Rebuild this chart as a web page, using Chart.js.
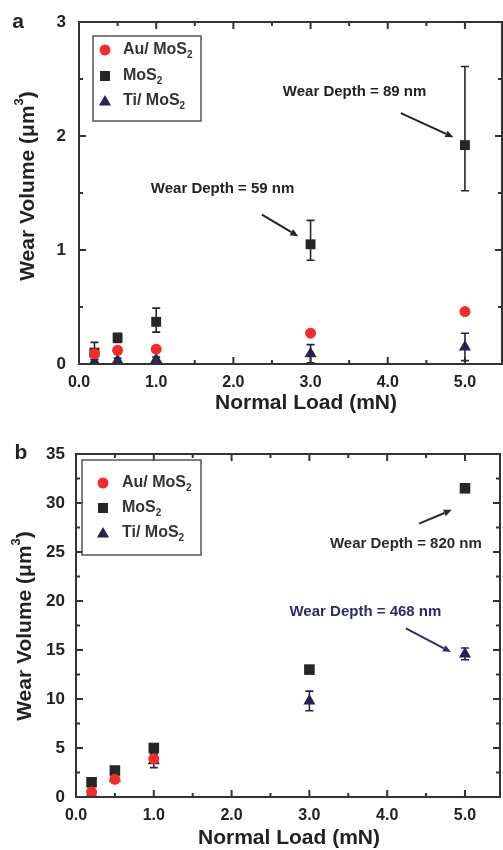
<!DOCTYPE html>
<html><head><meta charset="utf-8">
<script src="https://cdn.jsdelivr.net/npm/chart.js@4.4.0/dist/chart.umd.min.js"></script>
<style>
html,body{margin:0;padding:0;background:#fff;}
#wrap{position:relative;width:503px;height:850px;overflow:hidden;}
canvas{position:absolute;left:0;}
</style></head><body>
<div id="wrap">
<canvas id="ca" width="503" height="420" style="top:0px"></canvas>
<canvas id="cb" width="503" height="430" style="top:420px"></canvas>
</div>
<script>
// ---------- DATA ----------
const loads = [0.2, 0.5, 1.0, 3.0, 5.0];
const xTickLabels = ['0.0', '1.0', '2.0', '3.0', '4.0', '5.0'];

// panel a
const a_au = [0.09, 0.12, 0.13, 0.27, 0.46];
const a_mos2 = [0.10, 0.23, 0.37, 1.05, 1.92];
const a_mos2_errUp = [0.09, 0.04, 0.12, 0.21, 0.69];
const a_mos2_errDown = [0.06, 0.04, 0.09, 0.14, 0.40];
const a_ti = [0.02, 0.03, 0.04, 0.09, 0.15];
const a_ti_err = [0.02, 0.02, 0.02, 0.08, 0.12];
const a_yTickLabels = ['0', '1', '2', '3'];

// panel b
const b_loads_au = [0.2, 0.5, 1.0];
const b_au = [0.5, 1.8, 3.9];
const b_mos2 = [1.5, 2.7, 5.0, 13.0, 31.5];
const b_ti = [0.3, 1.9, 3.7, 9.8, 14.6];
const b_ti_err = [0.3, 0.3, 0.7, 1.0, 0.6];
const b_yTickLabels = ['0', '5', '10', '15', '20', '25', '30', '35'];

// ---------- STYLE ----------
const FONT = '"Liberation Sans", Arial, Helvetica, sans-serif';
const C_AU = '#ef2d2d', C_MO = '#262626', C_TI = '#25244f', C_FRAME = '#333';

function pts(xs, ys) { return xs.map((x, i) => ({x, y: ys[i]})); }
function isMult(v, m) { return Math.abs(v / m - Math.round(v / m)) < 1e-6; }

function drawMarker(ctx, style, x, y, color) {
  ctx.save();
  ctx.fillStyle = color;
  ctx.beginPath();
  if (style === 'circle') { ctx.arc(x, y, 5.5, 0, Math.PI * 2); }
  else if (style === 'rect') { ctx.rect(x - 5, y - 5, 10, 10); }
  else { const r = 7; ctx.moveTo(x, y - r); ctx.lineTo(x + r * 0.866, y + r * 0.5); ctx.lineTo(x - r * 0.866, y + r * 0.5); ctx.closePath(); }
  ctx.fill();
  ctx.restore();
}

function drawRich(ctx, parts, x, y, opts) {
  ctx.save();
  ctx.translate(x, y);
  if (opts.rotate) ctx.rotate(opts.rotate);
  ctx.textBaseline = 'middle';
  ctx.textAlign = 'left';
  ctx.fillStyle = opts.color || '#222';
  let w = 0;
  for (const p of parts) { ctx.font = `bold ${p.size}px ${FONT}`; w += ctx.measureText(p.t).width; }
  let cx = opts.align === 'center' ? -w / 2 : 0;
  for (const p of parts) {
    ctx.font = `bold ${p.size}px ${FONT}`;
    ctx.fillText(p.t, cx, p.dy || 0);
    cx += ctx.measureText(p.t).width;
  }
  ctx.restore();
}

function arrow(ctx, x1, y1, x2, y2, color) {
  ctx.save();
  ctx.strokeStyle = color; ctx.fillStyle = color; ctx.lineWidth = 2;
  const ang = Math.atan2(y2 - y1, x2 - x1);
  const hl = 8, hw = 3.5;
  const bx = x2 - hl * Math.cos(ang), by = y2 - hl * Math.sin(ang);
  ctx.beginPath(); ctx.moveTo(x1, y1); ctx.lineTo(bx, by); ctx.stroke();
  ctx.beginPath();
  ctx.moveTo(x2, y2);
  ctx.lineTo(bx + hw * Math.sin(ang), by - hw * Math.cos(ang));
  ctx.lineTo(bx - hw * Math.sin(ang), by + hw * Math.cos(ang));
  ctx.closePath(); ctx.fill();
  ctx.restore();
}

const sub = (t) => [{t: t, size: 16}, {t: '2', size: 10, dy: 5}];

const panels = {
  ca: {
    area: {left: 79, top: 22, right: 502, bottom: 364},
    xMax: 5.48, yMax: 3, yMinor: 0.5, yMajor: 1, yLabels: a_yTickLabels, yPad: 5,
    label: {t: 'a', x: 18, y: 22},
    xTitle: {x: 306, y: 403}, yTitle: {x: 28, y: 186},
    datasets: [
      {label: 'Au/ MoS2', data: pts(loads, a_au), pointStyle: 'circle', radius: 5.5, backgroundColor: C_AU, borderWidth: 0},
      {label: 'Ti/ MoS2', data: pts(loads, a_ti), pointStyle: 'triangle', radius: 7, backgroundColor: C_TI, borderWidth: 0},
      {label: 'MoS2', data: pts(loads, a_mos2), pointStyle: 'rect', radius: 7, backgroundColor: C_MO, borderWidth: 0}
    ],
    errors: [
      {xs: loads, ys: a_mos2, up: a_mos2_errUp, down: a_mos2_errDown, color: C_MO},
      {xs: loads, ys: a_ti, up: a_ti_err, down: a_ti_err, color: C_TI}
    ],
    legend: {box: [93, 36, 108, 85], rows: [50, 76, 101], mx: 105, tx: 123},
    notes: [
      {text: 'Wear Depth = 59 nm', color: '#222', at: [1.86, 1.54], from: [2.37, 1.31], to: [2.84, 1.12]},
      {text: 'Wear Depth = 89 nm', color: '#222', at: [3.57, 2.39], from: [4.17, 2.20], to: [4.85, 1.99]}
    ]
  },
  cb: {
    area: {left: 76, top: 34, right: 500, bottom: 377},
    xMax: 5.45, yMax: 35, yMinor: 2.5, yMajor: 5, yLabels: b_yTickLabels, yPad: 3,
    label: {t: 'b', x: 21, y: 33},
    xTitle: {x: 289, y: 418}, yTitle: {x: 25, y: 206},
    datasets: [
      {label: 'Au/ MoS2', data: pts(b_loads_au, b_au), pointStyle: 'circle', radius: 5.5, backgroundColor: C_AU, borderWidth: 0},
      {label: 'Ti/ MoS2', data: pts(loads, b_ti), pointStyle: 'triangle', radius: 7, backgroundColor: C_TI, borderWidth: 0},
      {label: 'MoS2', data: pts(loads, b_mos2), pointStyle: 'rect', radius: 7.5, backgroundColor: C_MO, borderWidth: 0}
    ],
    errors: [
      {xs: loads, ys: b_ti, up: b_ti_err, down: b_ti_err, color: C_TI}
    ],
    legend: {box: [82, 40, 119, 95], rows: [63, 88, 113], mx: 103, tx: 122},
    notes: [
      {text: 'Wear Depth = 820 nm', color: '#2b2b2b', at: [4.24, 25.8], from: [4.41, 27.9], to: [4.83, 29.3]},
      {text: 'Wear Depth = 468 nm', color: '#2d2b6b', at: [3.72, 18.9], from: [4.24, 17.2], to: [4.82, 14.8]}
    ]
  }
};

const figPlugin = {
  id: 'fig',
  beforeDatasetsDraw(chart) {
    const cfg = panels[chart.canvas.id];
    const {ctx, scales: {x, y}} = chart;
    ctx.save();
    ctx.lineWidth = 1.6;
    for (const e of cfg.errors) {
      ctx.strokeStyle = e.color;
      e.xs.forEach((xv, i) => {
        const px = x.getPixelForValue(xv);
        const pt = y.getPixelForValue(e.ys[i] + e.up[i]);
        const pb = y.getPixelForValue(Math.max(0, e.ys[i] - e.down[i]));
        ctx.beginPath();
        ctx.moveTo(px, pt); ctx.lineTo(px, pb);
        ctx.moveTo(px - 4, pt); ctx.lineTo(px + 4, pt);
        ctx.moveTo(px - 4, pb); ctx.lineTo(px + 4, pb);
        ctx.stroke();
      });
    }
    ctx.restore();
  },
  afterDraw(chart) {
    const cfg = panels[chart.canvas.id];
    const {ctx, chartArea: a, scales: {x, y}} = chart;
    ctx.save();
    ctx.strokeStyle = C_FRAME; ctx.lineWidth = 2;
    ctx.strokeRect(a.left, a.top, a.right - a.left, a.bottom - a.top);
    ctx.beginPath();
    x.ticks.forEach(t => {
      if (!isMult(t.value, 0.5)) return;
      const L = isMult(t.value, 1) ? 7 : 4;
      const px = x.getPixelForValue(t.value);
      ctx.moveTo(px, a.bottom); ctx.lineTo(px, a.bottom - L);
      ctx.moveTo(px, a.top); ctx.lineTo(px, a.top + L);
    });
    y.ticks.forEach(t => {
      if (!isMult(t.value, cfg.yMinor)) return;
      const L = isMult(t.value, cfg.yMajor) ? 7 : 4;
      const py = y.getPixelForValue(t.value);
      ctx.moveTo(a.left, py); ctx.lineTo(a.left + L, py);
      ctx.moveTo(a.right, py); ctx.lineTo(a.right - L, py);
    });
    ctx.stroke();
    ctx.restore();

    // legend
    const lg = cfg.legend;
    ctx.save();
    ctx.strokeStyle = '#555'; ctx.lineWidth = 1.5;
    ctx.strokeRect(lg.box[0], lg.box[1], lg.box[2], lg.box[3]);
    ctx.restore();
    drawMarker(ctx, 'circle', lg.mx, lg.rows[0], C_AU);
    drawMarker(ctx, 'rect', lg.mx, lg.rows[1], C_MO);
    drawMarker(ctx, 'triangle', lg.mx, lg.rows[2] + 1, C_TI);
    drawRich(ctx, sub('Au/ MoS'), lg.tx, lg.rows[0], {color: '#333'});
    drawRich(ctx, sub('MoS'), lg.tx, lg.rows[1], {color: '#333'});
    drawRich(ctx, sub('Ti/ MoS'), lg.tx, lg.rows[2], {color: '#333'});

    // annotations
    for (const n of cfg.notes) {
      drawRich(ctx, [{t: n.text, size: 15}], x.getPixelForValue(n.at[0]), y.getPixelForValue(n.at[1]), {align: 'center', color: n.color});
      arrow(ctx, x.getPixelForValue(n.from[0]), y.getPixelForValue(n.from[1]), x.getPixelForValue(n.to[0]), y.getPixelForValue(n.to[1]), n.color);
    }

    // panel label and axis titles
    drawRich(ctx, [{t: cfg.label.t, size: 21}], cfg.label.x, cfg.label.y, {align: 'center', color: '#222'});
    drawRich(ctx, [{t: 'Normal Load (mN)', size: 21}], cfg.xTitle.x, cfg.xTitle.y, {align: 'center', color: '#222'});
    drawRich(ctx, [{t: 'Wear Volume (\u03bcm', size: 21}, {t: '3', size: 13, dy: -9}, {t: ')', size: 21}],
      cfg.yTitle.x, cfg.yTitle.y, {align: 'center', color: '#222', rotate: -Math.PI / 2});
  }
};

function makeChart(id) {
  const cfg = panels[id];
  const canvas = document.getElementById(id);
  const H = canvas.height;
  return new Chart(canvas, {
    type: 'scatter',
    data: {datasets: cfg.datasets},
    options: {
      responsive: false, animation: false, events: [],
      layout: {autoPadding: false, padding: {top: cfg.area.top, right: 503 - cfg.area.right, left: 0, bottom: 0}},
      plugins: {legend: {display: false}, tooltip: {enabled: false}},
      scales: {
        x: {
          type: 'linear', min: 0, max: cfg.xMax,
          grid: {display: false}, border: {display: false},
          ticks: {
            stepSize: 0.5, includeBounds: false, autoSkip: false, maxRotation: 0, minRotation: 0, padding: 1, color: '#222',
            font: {family: FONT, size: 16, weight: 'bold'},
            callback: v => (isMult(v, 1) ? (xTickLabels[Math.round(v)] || '') : '')
          },
          afterFit: s => { s.height = H - cfg.area.bottom; s.paddingLeft = 0; s.paddingRight = 0; }
        },
        y: {
          type: 'linear', min: 0, max: cfg.yMax,
          grid: {display: false}, border: {display: false},
          ticks: {
            stepSize: cfg.yMinor, includeBounds: false, autoSkip: false, padding: cfg.yPad, color: '#222',
            font: {family: FONT, size: 17, weight: 'bold'},
            callback: v => (isMult(v, cfg.yMajor) ? (cfg.yLabels[Math.round(v / cfg.yMajor)] || '') : '')
          },
          afterFit: s => { s.width = cfg.area.left; }
        }
      }
    },
    plugins: [figPlugin]
  });
}
makeChart('ca');
makeChart('cb');
</script>
</body></html>
